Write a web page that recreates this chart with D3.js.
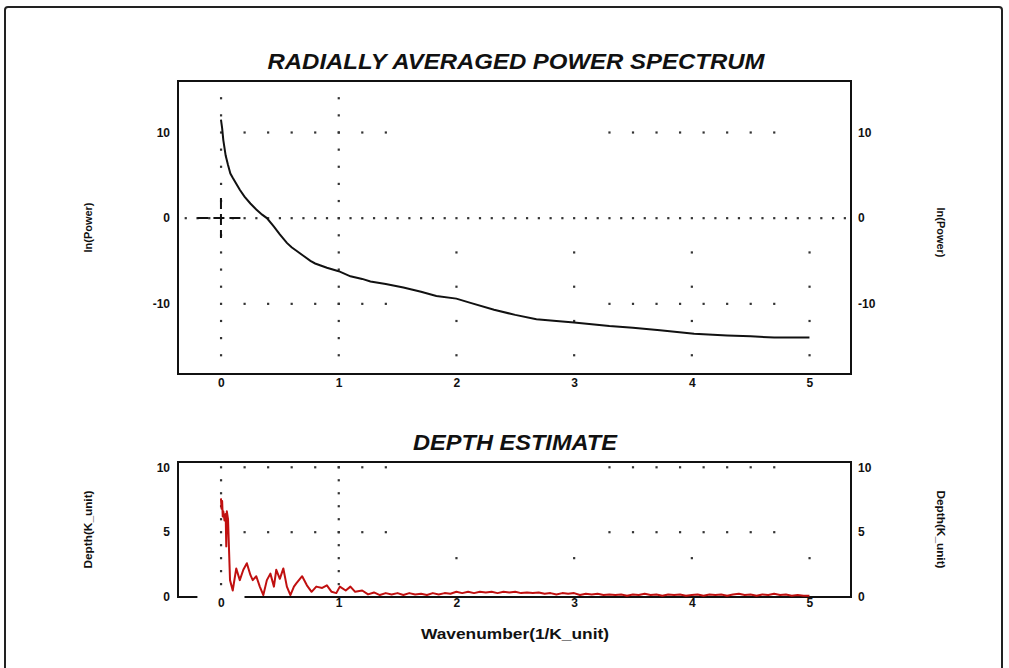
<!DOCTYPE html>
<html>
<head>
<meta charset="utf-8">
<script src="https://d3js.org/d3.v7.min.js"></script>
<style>
  body { margin: 0; background: #fff; }
  svg { display: block; font-family: "Liberation Sans", Arial, sans-serif; }
</style>
</head>
<body>
<script>
// ---- data ----
const powerK = [0, 0.01, 0.02, 0.04, 0.06, 0.08, 0.10, 0.13, 0.16, 0.20, 0.25, 0.30, 0.35, 0.39, 0.45, 0.50, 0.56,
  0.60, 0.65, 0.70, 0.76, 0.80, 0.90, 1.00, 1.10, 1.20, 1.27, 1.40, 1.55, 1.70, 1.83, 2.00, 2.12, 2.32, 2.50, 2.68,
  2.85, 3.00, 3.30, 3.50, 3.73, 4.02, 4.30, 4.50, 4.70, 5.00];
const lnPower = [11.5, 10.5, 9.1, 7.3, 6.2, 5.2, 4.7, 4.0, 3.3, 2.5, 1.7, 1.0, 0.4, 0.0, -1.0, -1.9, -2.9,
  -3.4, -3.9, -4.4, -5.0, -5.3, -5.8, -6.2, -6.8, -7.1, -7.4, -7.7, -8.1, -8.6, -9.1, -9.4, -9.9, -10.7, -11.3, -11.8,
  -12.0, -12.2, -12.6, -12.8, -13.1, -13.5, -13.7, -13.8, -13.95, -13.95];

const depthK = [0, 0.005, 0.01, 0.015, 0.02, 0.03, 0.04, 0.045, 0.05, 0.06, 0.077, 0.10, 0.13, 0.16, 0.19, 0.22, 0.25,
  0.27, 0.30, 0.33, 0.36, 0.39, 0.42, 0.45, 0.47, 0.50, 0.53, 0.56, 0.59, 0.62, 0.64, 0.69, 0.73, 0.77, 0.81,
  0.86, 0.90, 0.94, 0.98, 1.01, 1.06, 1.10, 1.14, 1.20, 1.25, 1.30, 1.35, 1.40, 1.45, 1.50, 1.55, 1.60, 1.65, 1.70,
  1.75, 1.80, 1.85, 1.90, 1.95, 2.00, 2.05, 2.10, 2.15, 2.20, 2.25, 2.30, 2.35, 2.40, 2.45, 2.50, 2.55, 2.60, 2.65,
  2.70, 2.75, 2.80, 2.85, 2.90, 2.95, 3.00, 3.05, 3.10, 3.15, 3.20, 3.25, 3.30, 3.35, 3.40, 3.45, 3.50, 3.55, 3.60,
  3.65, 3.70, 3.75, 3.80, 3.85, 3.90, 3.95, 4.00, 4.05, 4.10, 4.15, 4.20, 4.25, 4.30, 4.35, 4.40, 4.45, 4.50, 4.55,
  4.60, 4.65, 4.70, 4.75, 4.80, 4.85, 4.90, 4.95, 5.00];
const depth = [7.6, 6.8, 7.4, 6.2, 6.6, 5.9, 6.4, 3.9, 6.6, 6.0, 1.3, 0.5, 2.2, 1.3, 2.1, 2.6, 1.7,
  1.3, 1.6, 0.8, 0.15, 1.3, 1.8, 0.8, 2.1, 1.4, 2.2, 0.8, 0.15, 0.8, 1.05, 1.6, 0.9, 0.4, 0.8,
  0.7, 0.9, 0.4, 0.3, 0.8, 0.5, 0.8, 0.4, 0.5, 0.2, 0.35, 0.15, 0.3, 0.2, 0.3, 0.15, 0.3, 0.2, 0.25,
  0.15, 0.3, 0.2, 0.3, 0.25, 0.4, 0.3, 0.4, 0.3, 0.4, 0.35, 0.4, 0.3, 0.4, 0.35, 0.4, 0.3, 0.35, 0.3,
  0.35, 0.25, 0.3, 0.2, 0.3, 0.25, 0.3, 0.15, 0.25, 0.2, 0.25, 0.15, 0.2, 0.15, 0.2, 0.1, 0.2, 0.15, 0.25,
  0.15, 0.2, 0.1, 0.2, 0.15, 0.2, 0.1, 0.15, 0.2, 0.1, 0.2, 0.15, 0.2, 0.1, 0.2, 0.25, 0.15, 0.2, 0.1,
  0.2, 0.15, 0.25, 0.15, 0.2, 0.1, 0.15, 0.1, 0.1];

const xTicks = [0, 1, 2, 3, 4, 5];
const powerTicks = [10, 0, -10];
const depthTicks = [10, 5, 0];
// grid dot positions as they appear on the plot
const dotRowK = [0.2, 0.4, 0.6, 0.8, 1.0, 1.2, 1.4, 3.3, 3.5, 3.7, 3.9, 4.1, 4.3, 4.5, 4.7];
const powerRowVals = [10, -10];
const depthRowVals = [10, 5];
const colK = [2, 3, 4, 5];
const powerColVals = [-4, -8, -12, -16];
const depthColVals = [3];

const W = 1009, H = 668;
const svg = d3.select('body').append('svg').attr('width', W).attr('height', H);

// outer frame
svg.append('rect')
  .attr('x', 5).attr('y', 7).attr('width', 997).attr('height', 680)
  .attr('rx', 3)
  .attr('fill', 'none').attr('stroke', '#222').attr('stroke-width', 2);

const x = d3.scaleLinear().domain([-0.365, 5.353]).range([178, 851]);
const yTop = d3.scaleLinear().domain([-18.2, 16]).range([374, 81]);
const yBot = d3.scaleLinear().domain([0, 10.4]).range([597, 462]);

const dotColor = '#333';
function dots(g, pts, ys) {
  g.selectAll(null).data(pts).enter().append('rect')
    .attr('x', d => x(d[0]) - 1).attr('y', d => ys(d[1]) - 1)
    .attr('width', 2.2).attr('height', 2.2)
    .attr('fill', dotColor);
}

function panel(ys, yTicks, opts) {
  const g = svg.append('g');
  const [x0, x1] = x.range();
  const [y0, y1] = ys.range();

  // grid dots
  let pts = [];
  opts.rowVals.forEach(v => dotRowK.forEach(k => pts.push([k, v])));
  opts.colVals.forEach(v => colK.forEach(k => pts.push([k, v])));
  opts.vertVals.forEach(v => { pts.push([0, v]); pts.push([1, v]); });
  if (opts.zeroLine) d3.range(-3, 54).forEach(i => pts.push([i / 10, 0]));
  dots(g, pts, ys);

  // box
  g.append('rect')
    .attr('x', x0).attr('y', y1).attr('width', x1 - x0).attr('height', y0 - y1)
    .attr('fill', 'none').attr('stroke', '#111').attr('stroke-width', 2);

  // crosshair at origin
  if (opts.cross) {
    g.append('line')
      .attr('x1', x(-0.2)).attr('x2', x(0.2)).attr('y1', ys(0)).attr('y2', ys(0))
      .attr('stroke', opts.cross).attr('stroke-width', 2).attr('stroke-dasharray', opts.crossDash);
    if (opts.cross !== '#fff') {
      g.append('line')
        .attr('x1', x(0)).attr('x2', x(0)).attr('y1', ys(0) - 20).attr('y2', ys(0) + 20)
        .attr('stroke', opts.cross).attr('stroke-width', 2).attr('stroke-dasharray', opts.crossDash);
    }
  }

  // tick labels via axes, no domain/ticks
  const fmt = d => String(d);
  const bottomAxis = d3.axisBottom(x).tickValues(xTicks).tickSize(0).tickPadding(opts.xPad).tickFormat(fmt);
  const leftAxis = d3.axisLeft(ys).tickValues(yTicks).tickSize(0).tickPadding(8).tickFormat(fmt);
  const rightAxis = d3.axisRight(ys).tickValues(yTicks).tickSize(0).tickPadding(7).tickFormat(fmt);
  [
    [bottomAxis, `translate(0,${y0})`],
    [leftAxis, `translate(${x0},0)`],
    [rightAxis, `translate(${x1},0)`]
  ].forEach(([ax, tr]) => {
    const a = g.append('g').attr('transform', tr).call(ax);
    a.select('.domain').remove();
    a.selectAll('text').attr('font-size', 12).attr('font-weight', 'bold').attr('fill', '#111')
      .attr('font-family', '"Liberation Sans", Arial, sans-serif');
  });

  // title
  g.append('text')
    .attr('x', opts.titleX).attr('y', y1 - 12)
    .attr('text-anchor', 'middle')
    .attr('font-size', 22).attr('font-weight', 'bold').attr('font-style', 'italic')
    .attr('textLength', opts.titleLen).attr('lengthAdjust', 'spacingAndGlyphs')
    .attr('fill', '#111')
    .text(opts.title);

  // y labels
  const cy = (y0 + y1) / 2;
  g.append('text')
    .attr('transform', `translate(92,${cy + opts.lOff}) rotate(-90)`)
    .attr('text-anchor', 'middle').attr('font-size', 11).attr('font-weight', 'bold')
    .attr('textLength', opts.yLen).attr('lengthAdjust', 'spacingAndGlyphs')
    .attr('fill', '#111').text(opts.yLabel);
  g.append('text')
    .attr('transform', `translate(937,${cy + opts.rOff}) rotate(90)`)
    .attr('text-anchor', 'middle').attr('font-size', 11).attr('font-weight', 'bold')
    .attr('textLength', opts.yLen).attr('lengthAdjust', 'spacingAndGlyphs')
    .attr('fill', '#111').text(opts.yLabel);
  return g;
}

const gTop = panel(yTop, powerTicks, {
  rowVals: powerRowVals, colVals: powerColVals, vertVals: d3.range(-16, 15, 2),
  zeroLine: true, cross: '#111', crossDash: '11,5', xPad: 4,
  title: 'RADIALLY AVERAGED POWER SPECTRUM', titleX: 516, titleLen: 497,
  yLabel: 'ln(Power)', yLen: 50, lOff: 0, rOff: 5
});

gTop.append('path')
  .datum(powerK.map((k, i) => [k, lnPower[i]]))
  .attr('fill', 'none').attr('stroke', '#111').attr('stroke-width', 2)
  .attr('d', d3.line().x(d => x(d[0])).y(d => yTop(d[1])));

const gBot = panel(yBot, depthTicks, {
  rowVals: depthRowVals, colVals: depthColVals, vertVals: d3.range(0, 11, 1),
  zeroLine: false, cross: '#fff', crossDash: null, xPad: 1,
  title: 'DEPTH ESTIMATE', titleX: 515, titleLen: 204,
  yLabel: 'Depth(K_unit)', yLen: 78, lOff: 0, rOff: 0
});

gBot.append('path')
  .datum(depthK.map((k, i) => [k, depth[i]]))
  .attr('fill', 'none').attr('stroke', '#c01010').attr('stroke-width', 2)
  .attr('stroke-linejoin', 'round')
  .attr('d', d3.line().x(d => x(d[0])).y(d => yBot(d[1])));

svg.append('text')
  .attr('x', 515).attr('y', 639)
  .attr('text-anchor', 'middle').attr('font-size', 15).attr('font-weight', 'bold')
  .attr('textLength', 188).attr('lengthAdjust', 'spacingAndGlyphs')
  .attr('fill', '#111')
  .text('Wavenumber(1/K_unit)');
</script>
</body>
</html>
